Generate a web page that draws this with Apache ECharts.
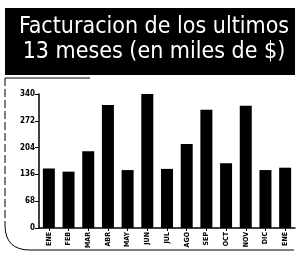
<!DOCTYPE html>
<html lang="es">
<head>
  <meta charset="UTF-8">
  <title>Facturacion</title>
  <style>
    html, body { margin: 0; padding: 0; background: #fff; }
  </style>
</head>
<body>
  <div id="main" style="width: 297px;height:257px;"></div>
  <script src="https://cdn.jsdelivr.net/npm/echarts@6/dist/echarts.min.js"></script>
  <script type="text/javascript">
    // datos
    var meses = ['ENE', 'FEB', 'MAR', 'ABR', 'MAY', 'JUN', 'JUL', 'AGO', 'SEP', 'OCT', 'NOV', 'DIC', 'ENE'];
    var facturacion = [151, 143, 195, 312, 147, 340, 150, 213, 300, 164, 310, 147, 153];
    var ticks = [0, 68, 136, 204, 272, 340];

    var myChart = echarts.init(document.getElementById('main'));

    var frame = { stroke: '#000', lineWidth: 1 };

    var option = {
      animation: false,
      graphic: [
        // recuadro negro del titulo
        { type: 'rect', shape: { x: 5, y: 8, width: 290, height: 67 }, style: { fill: '#000' } },
        {
          type: 'text', x: 154, y: 15,
          style: {
            text: 'Facturacion de los ultimos\n13 meses (en miles de $)',
            fill: '#fff', font: '500 23px "DejaVu Sans Condensed"', align: 'center', lineHeight: 25
          }
        },
        // marco redondeado
        { type: 'line', shape: { x1: 5, y1: 78, x2: 90, y2: 78 }, style: frame },
        { type: 'line', shape: { x1: 5, y1: 78, x2: 5, y2: 225 }, style: { stroke: '#000', lineWidth: 1, lineDash: [8, 3] } },
        { type: 'bezierCurve', shape: { x1: 5, y1: 225, cpx1: 5, cpy1: 250, x2: 30, y2: 250 }, style: { stroke: '#000', lineWidth: 1, fill: null } },
        { type: 'line', shape: { x1: 30, y1: 250, x2: 294, y2: 250 }, style: frame }
      ],
      grid: { left: 39, right: 2, top: 94, bottom: 29 },
      xAxis: {
        type: 'category',
        data: meses,
        axisLine: { lineStyle: { color: '#000', width: 1.5 } },
        axisTick: { show: true, alignWithLabel: true, length: 3, lineStyle: { color: '#000' } },
        axisLabel: { rotate: 90, fontSize: 7, fontWeight: 'bold', color: '#000', fontFamily: 'DejaVu Sans Condensed', margin: 4 }
      },
      yAxis: {
        type: 'value',
        min: ticks[0],
        max: ticks[ticks.length - 1],
        interval: 68,
        splitLine: { show: false },
        axisLine: { show: true, lineStyle: { color: '#000', width: 1.5 } },
        axisTick: { show: true, length: 4, lineStyle: { color: '#000' } },
        axisLabel: { fontSize: 8, fontWeight: 'bold', color: '#000', fontFamily: 'DejaVu Sans Condensed', margin: 4 }
      },
      series: [{
        type: 'bar',
        data: facturacion,
        barWidth: 12,
        itemStyle: { color: '#000' }
      }]
    };

    myChart.setOption(option);
  </script>
</body>
</html>
